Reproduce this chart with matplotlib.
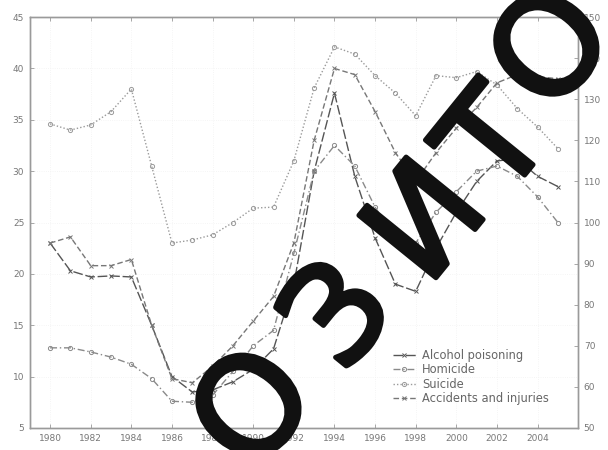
import numpy as np
import matplotlib
matplotlib.use("Agg")
import matplotlib.pyplot as plt
import matplotlib.patheffects as pe

# external-cause mortality, per 100 000
years = list(range(1980, 2006))
alcohol = [23.0, 20.3, 19.7, 19.8, 19.7, 15.0, 10.0, 8.5, 8.7, 9.5, 10.7, 12.7, 19.0,
           30.0, 37.6, 29.5, 23.5, 19.0, 18.3, 22.5, 26.0, 29.0, 31.0, 31.2, 29.5, 28.5]
homicide = [12.8, 12.8, 12.4, 11.9, 11.2, 9.8, 7.6, 7.5, 8.2, 10.5, 13.0, 14.5, 22.0,
            30.0, 32.5, 30.5, 26.5, 23.5, 23.0, 26.0, 28.0, 30.0, 30.5, 29.5, 27.5, 25.0]
suicide = [34.6, 34.0, 34.5, 35.8, 38.0, 30.5, 23.0, 23.3, 23.8, 25.0, 26.4, 26.5, 31.0,
           38.1, 42.1, 41.4, 39.3, 37.6, 35.4, 39.3, 39.1, 39.7, 38.4, 36.1, 34.3, 32.2]
# accidents and injuries on the right-hand scale
accidents = [95, 96.5, 89.5, 89.5, 91, 75, 62, 61, 65, 70, 76, 82, 95,
             120, 137.5, 136, 127, 117, 110, 117, 123, 128, 134, 136, 135.5, 135]

xticks = list(range(1980, 2005, 2))
lticks = list(range(5, 50, 5))
rticks = list(range(50, 160, 10))
labels = ["Alcohol poisoning", "Homicide", "Suicide", "Accidents and injuries"]

fig = plt.figure(figsize=(6.08, 4.5), dpi=100)
ax = fig.add_axes([0.049, 0.049, 0.902, 0.913])
ax2 = ax.twinx()

tc = "#777777"
for a in (ax, ax2):
    for s in a.spines.values():
        s.set_color("#9a9a9a"); s.set_linewidth(1.0)
ax.tick_params(direction="in", length=3, width=0.6, color="#999999", labelsize=6.5,
               labelcolor=tc, top=True, pad=4)
ax2.tick_params(direction="in", length=3, width=0.6, color="#999999", labelsize=6.5,
                labelcolor=tc, pad=4)

ax.set_xlim(1979, 2006); ax.set_xticks(xticks)
ax.set_ylim(5, 45); ax.set_yticks(lticks)
ax2.set_ylim(50, 150); ax2.set_yticks(rticks)
ax.grid(True, color="#f2f2f2", lw=0.6, ls=":")

kw = dict(lw=1.0, ms=3, mew=0.7)
h1, = ax.plot(years, alcohol, color="#555555", ls=(0, (7, 2)), marker="x", **kw)
h2, = ax.plot(years, homicide, color="#8a8a8a", ls=(0, (5, 2, 1, 2)), marker="o",
              mfc="none", **kw)
h3, = ax.plot(years, suicide, color="#9a9a9a", ls=(0, (1, 1.5)), marker="o",
              mfc="none", **kw)
h4, = ax2.plot(years, accidents, color="#777777", ls=(0, (4, 2)), marker="x", **kw)

leg = ax.legend([h1, h2, h3, h4], labels, loc="lower right", frameon=False,
                fontsize=8.3, handlelength=2.0, handletextpad=0.5, labelspacing=0.12,
                bbox_to_anchor=(0.965, 0.03))
for t in leg.get_texts():
    t.set_color("#666666")

# watermark letters along the diagonal
marks = [("О", 0.424, 0.084), ("З", 0.563, 0.293), ("И", 0.708, 0.50),
         ("Т", 0.822, 0.675), ("О", 0.914, 0.884)]
for ch, fx, fy in marks:
    fig.text(fx, fy, ch, fontsize=98, color="#111111", rotation=51,
             ha="center", va="center", rotation_mode="anchor",
             path_effects=[pe.withStroke(linewidth=3.5, foreground="#111111")])

fig.savefig("out.png", dpi=100)
